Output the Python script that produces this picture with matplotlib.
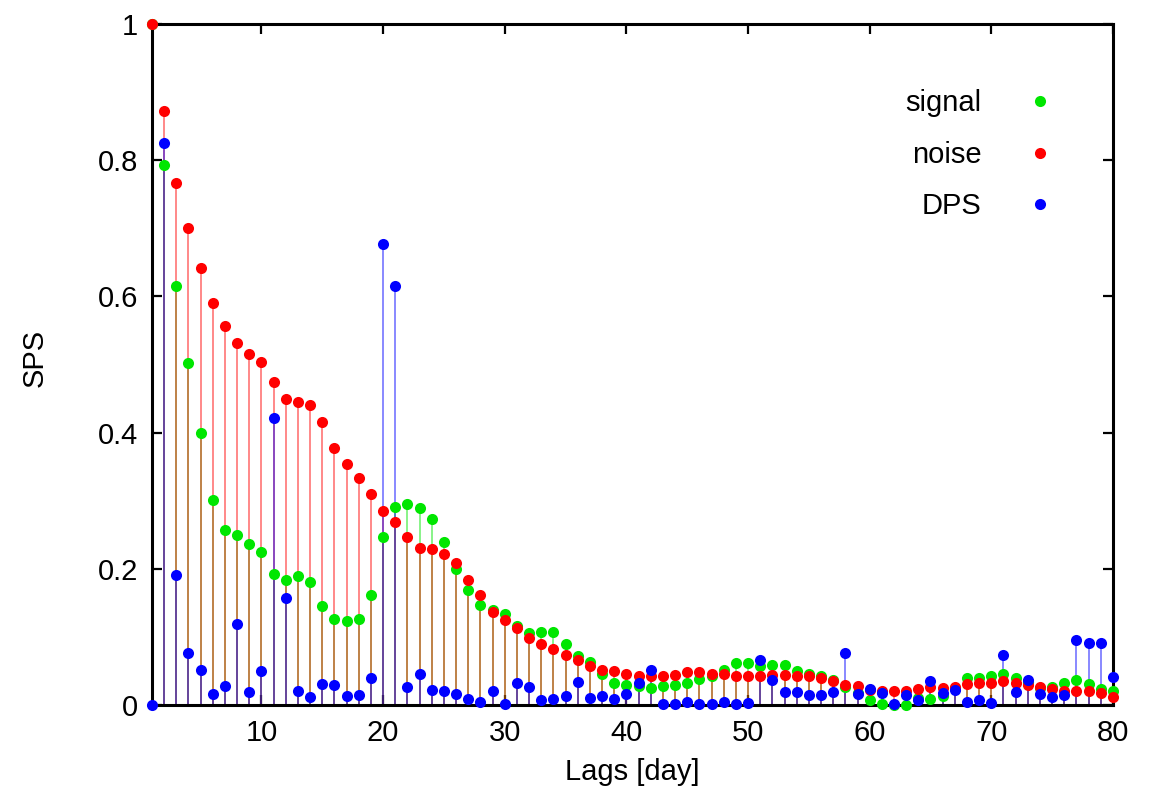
import numpy as np
import matplotlib
matplotlib.use("Agg")
import matplotlib.pyplot as plt
from matplotlib.ticker import FuncFormatter

plt.rcParams['font.family'] = ['Liberation Sans', 'DejaVu Sans']
plt.rcParams['font.size'] = 21

lags = np.arange(1, 81)

signal = [1.000, 0.793, 0.616, 0.502, 0.400, 0.301, 0.257, 0.249, 0.237, 0.225,
          0.193, 0.184, 0.190, 0.180, 0.146, 0.126, 0.123, 0.126, 0.161, 0.247,
          0.291, 0.295, 0.289, 0.273, 0.239, 0.200, 0.169, 0.147, 0.140, 0.134,
          0.116, 0.105, 0.107, 0.107, 0.089, 0.072, 0.063, 0.046, 0.032, 0.029,
          0.028, 0.025, 0.028, 0.029, 0.032, 0.038, 0.043, 0.051, 0.062, 0.061,
          0.057, 0.058, 0.059, 0.050, 0.046, 0.043, 0.037, 0.026, 0.018, 0.007,
          0.001, 0.000, 0.000, 0.010, 0.009, 0.013, 0.025, 0.040, 0.040, 0.042,
          0.046, 0.039, 0.034, 0.025, 0.026, 0.033, 0.036, 0.031, 0.024, 0.020]

noise = [1.000, 0.872, 0.766, 0.700, 0.642, 0.590, 0.556, 0.531, 0.515, 0.503,
         0.475, 0.450, 0.445, 0.441, 0.415, 0.378, 0.354, 0.334, 0.310, 0.285,
         0.268, 0.246, 0.231, 0.229, 0.222, 0.208, 0.184, 0.161, 0.137, 0.125,
         0.113, 0.099, 0.089, 0.082, 0.073, 0.066, 0.057, 0.052, 0.050, 0.046,
         0.042, 0.042, 0.042, 0.044, 0.048, 0.048, 0.046, 0.045, 0.043, 0.043,
         0.043, 0.044, 0.044, 0.042, 0.042, 0.040, 0.035, 0.029, 0.028, 0.022,
         0.021, 0.020, 0.021, 0.023, 0.026, 0.025, 0.027, 0.031, 0.033, 0.033,
         0.035, 0.033, 0.029, 0.026, 0.023, 0.020, 0.020, 0.020, 0.017, 0.012]

dps = [0.000, 0.825, 0.191, 0.076, 0.051, 0.016, 0.028, 0.119, 0.019, 0.050,
       0.422, 0.157, 0.020, 0.012, 0.031, 0.030, 0.013, 0.015, 0.039, 0.677,
       0.616, 0.026, 0.045, 0.022, 0.021, 0.016, 0.009, 0.005, 0.021, 0.001,
       0.033, 0.027, 0.007, 0.009, 0.013, 0.034, 0.010, 0.013, 0.009, 0.016,
       0.032, 0.052, 0.002, 0.002, 0.005, 0.001, 0.002, 0.005, 0.002, 0.003,
       0.066, 0.036, 0.019, 0.019, 0.015, 0.014, 0.019, 0.077, 0.016, 0.023,
       0.018, 0.002, 0.014, 0.007, 0.035, 0.018, 0.022, 0.004, 0.007, 0.003,
       0.073, 0.019, 0.037, 0.016, 0.011, 0.015, 0.095, 0.091, 0.091, 0.041]

series = [("signal", signal, "#00e600"),
          ("noise", noise, "#ff0000"),
          ("DPS", dps, "#0000ff")]

fig = plt.figure(figsize=(11.55, 7.93), dpi=100)
ax = fig.add_axes([0.1316, 0.111, 0.832, 0.8587])

# impulses from zero, then the points on top
for name, vals, col in series:
    ax.vlines(lags, 0, vals, colors=col, alpha=0.5, linewidth=1.3, zorder=2)
    ax.plot(lags, vals, 'o', color=col, markersize=8, markeredgewidth=0,
            clip_on=False, label=name, zorder=3)

ax.set_xlim(1, 80)
ax.set_ylim(0, 1)
ax.set_xticks([10, 20, 30, 40, 50, 60, 70, 80])
ax.set_yticks([0, 0.2, 0.4, 0.6, 0.8, 1.0])
ax.yaxis.set_major_formatter(FuncFormatter(lambda v, p: '%g' % v))
ax.tick_params(direction='in', length=7, width=1.6, top=True, right=True,
               labelsize=21, pad=10)
for s in ax.spines.values():
    s.set_linewidth(2.2)

ax.set_xlabel('Lags [day]', fontsize=21)
ax.set_ylabel('SPS', fontsize=21)
ax.xaxis.set_label_coords(0.5, -0.078)
ax.yaxis.set_label_coords(-0.108, 0.51)

ax.legend(loc='upper right', bbox_to_anchor=(0.939, 0.904), frameon=False,
          markerfirst=False, handlelength=1.0, handletextpad=1.5,
          labelspacing=0.8, borderpad=0, borderaxespad=0, fontsize=21)

fig.savefig('out.png', dpi=100)
